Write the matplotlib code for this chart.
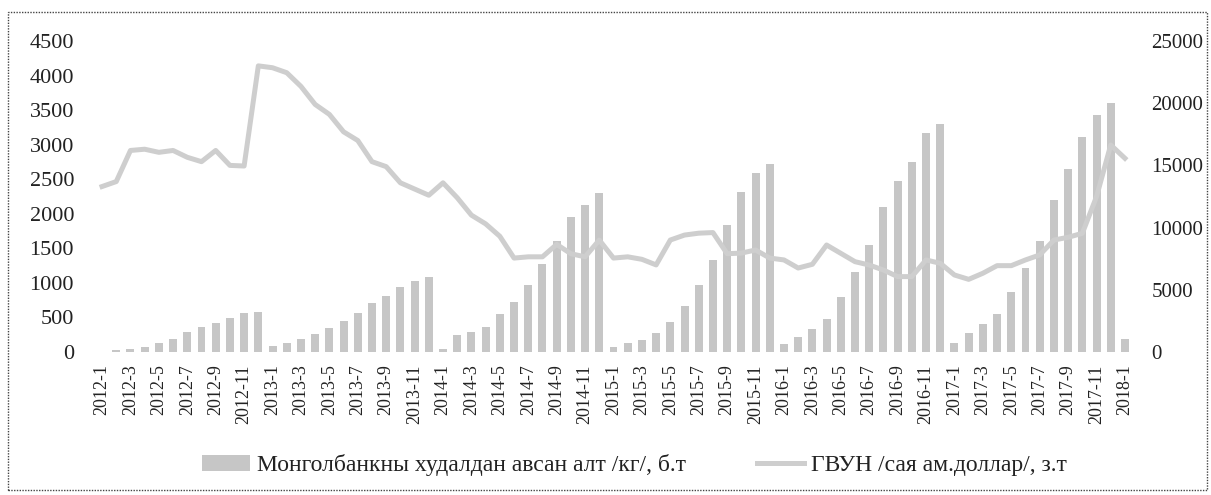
import matplotlib
matplotlib.use("Agg")
import matplotlib.pyplot as plt
import numpy as np
from matplotlib.patches import Rectangle

plt.rcParams['font.family'] = ['Liberation Serif', 'DejaVu Serif']

# monthly categories 2012-1 .. 2018-1
months = [f"{y}-{m}" for y in range(2012, 2018) for m in range(1, 13)] + ["2018-1"]

# gold purchased by the Bank of Mongolia, kg (left axis)
gold_kg = [
    5, 25, 40, 75, 125, 190, 285, 365, 415, 490, 560, 575,
    90, 125, 195, 255, 345, 450, 570, 715, 815, 945, 1025, 1080,
    45, 245, 295, 365, 545, 730, 975, 1270, 1600, 1950, 2130, 2295,
    75, 125, 175, 270, 430, 672, 970, 1331, 1838, 2320, 2595, 2720,
    110, 212, 328, 480, 801, 1162, 1548, 2094, 2474, 2745, 3173, 3294,
    135, 270, 405, 545, 873, 1211, 1611, 2199, 2643, 3107, 3429, 3598,
    188,
]

# gross external debt, mln USD (right axis)
debt_usd = [
    13300, 13700, 16200, 16300, 16050, 16200, 15650, 15300, 16200, 15000, 14950, 23000,
    22850, 22450, 21350, 19900, 19100, 17700, 17000, 15300, 14900, 13600, 13100, 12600,
    13600, 12400, 11000, 10300, 9300, 7550, 7650, 7650, 8650, 7900, 7650, 9000,
    7550, 7650, 7450, 7000, 9000, 9400, 9550, 9600, 7900, 7950, 8200, 7550,
    7400, 6750, 7050, 8600, 7930, 7260, 6990, 6590, 6060, 6060, 7400, 7130,
    6190, 5840, 6330, 6940, 6940, 7400, 7800, 9000, 9220, 9540, 12490, 16640,
    15570,
]

bar_label = "Монголбанкны худалдан авсан алт /кг/, б.т"
line_label = "ГВУН /сая ам.доллар/, з.т"

fig = plt.figure(figsize=(12.11, 4.95), dpi=100)
ax = fig.add_axes([0.0784, 0.2889, 0.8564, 0.6283])
ax2 = ax.twinx()

x = np.arange(len(months))
bars = ax.bar(x, gold_kg, width=0.56, color='#c6c6c6', zorder=2, label=bar_label)
line, = ax2.plot(x, debt_usd, color='#cecece', linewidth=3.6, zorder=3, label=line_label,
                 solid_joinstyle='round')

ax.set_xlim(-0.5, len(months) - 0.5)
ax.set_ylim(0, 4500)
ax2.set_ylim(0, 25000)
ax.set_yticks(np.arange(0, 4501, 500))
ax2.set_yticks(np.arange(0, 25001, 5000))
ax.set_xticks(x[::2])
ax.set_xticklabels(months[::2], rotation=90, fontsize=13)

ax.tick_params(axis='y', length=0, pad=15, labelsize=16, labelcolor='#222222')
ax2.tick_params(axis='y', length=0, pad=14, labelsize=15, labelcolor='#222222')
ax.tick_params(axis='x', length=0, pad=9, labelcolor='#222222')

for a in (ax, ax2):
    for s in a.spines.values():
        s.set_visible(False)

fig.legend([bars, line], [bar_label, line_label], loc='center', ncol=2,
           bbox_to_anchor=(0.524, 0.06), frameon=False, fontsize=17,
           handlelength=2.0, columnspacing=3.0, handletextpad=0.3,
           labelcolor='#222222')

# outer frame of the picture
fig.patches.append(Rectangle((8 / 1211, 5 / 495), 1199 / 1211, 478 / 495,
                             transform=fig.transFigure, fill=False,
                             edgecolor='#444444', linewidth=1.0,
                             linestyle=(0, (1, 1))))

fig.savefig("out.png", dpi=100)
